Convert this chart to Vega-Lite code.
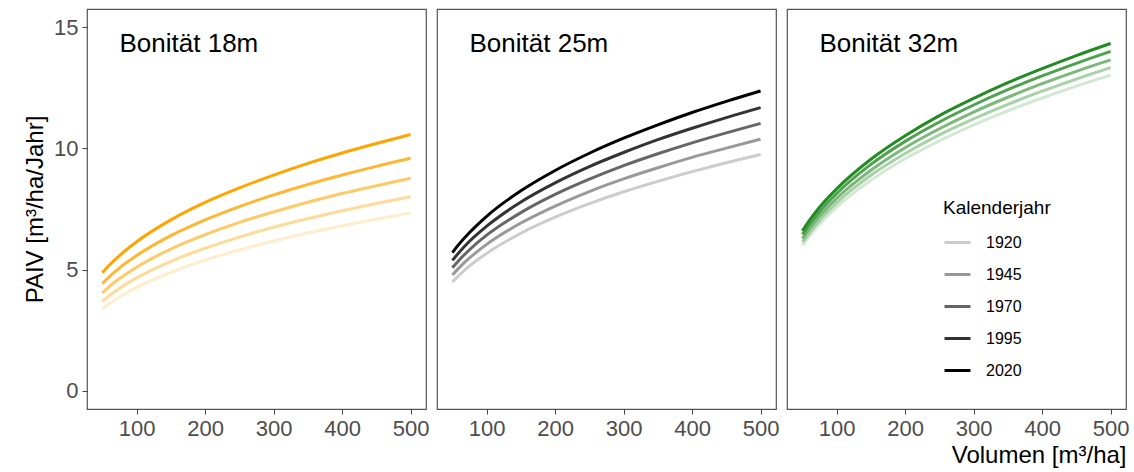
{
  "$schema": "https://vega.github.io/schema/vega-lite/v6.json",
  "background": "white",
  "padding": {"left": 22, "top": 8, "right": 5, "bottom": 5},
  "bounds": "flush",
  "config": {
    "font": "Liberation Sans",
    "view": {"stroke": "#555555", "strokeWidth": 1.2},
    "axis": {"grid": false, "domain": false, "tickColor": "#444444", "tickSize": 5, "labelColor": "#4D4D4D", "labelFontSize": 22, "labelFont": "Liberation Sans", "titleFont": "Liberation Sans", "titleFontSize": 24, "titleFontWeight": "normal", "titleColor": "black", "labelPadding": 4}
  },
  "datasets": {
    "pts": [
      {"bon":"18","jahr":2020,"v":50,"p":4.87},{"bon":"18","jahr":2020,"v":60,"p":5.18},{"bon":"18","jahr":2020,"v":75,"p":5.58},{"bon":"18","jahr":2020,"v":100,"p":6.15},{"bon":"18","jahr":2020,"v":150,"p":7.05},{"bon":"18","jahr":2020,"v":200,"p":7.77},{"bon":"18","jahr":2020,"v":250,"p":8.37},{"bon":"18","jahr":2020,"v":300,"p":8.90},{"bon":"18","jahr":2020,"v":350,"p":9.38},{"bon":"18","jahr":2020,"v":400,"p":9.81},{"bon":"18","jahr":2020,"v":450,"p":10.20},{"bon":"18","jahr":2020,"v":500,"p":10.57},
      {"bon":"18","jahr":1995,"v":50,"p":4.42},{"bon":"18","jahr":1995,"v":60,"p":4.70},{"bon":"18","jahr":1995,"v":75,"p":5.07},{"bon":"18","jahr":1995,"v":100,"p":5.58},{"bon":"18","jahr":1995,"v":150,"p":6.40},{"bon":"18","jahr":1995,"v":200,"p":7.05},{"bon":"18","jahr":1995,"v":250,"p":7.60},{"bon":"18","jahr":1995,"v":300,"p":8.08},{"bon":"18","jahr":1995,"v":350,"p":8.51},{"bon":"18","jahr":1995,"v":400,"p":8.90},{"bon":"18","jahr":1995,"v":450,"p":9.26},{"bon":"18","jahr":1995,"v":500,"p":9.59},
      {"bon":"18","jahr":1970,"v":50,"p":4.04},{"bon":"18","jahr":1970,"v":60,"p":4.30},{"bon":"18","jahr":1970,"v":75,"p":4.63},{"bon":"18","jahr":1970,"v":100,"p":5.10},{"bon":"18","jahr":1970,"v":150,"p":5.85},{"bon":"18","jahr":1970,"v":200,"p":6.44},{"bon":"18","jahr":1970,"v":250,"p":6.95},{"bon":"18","jahr":1970,"v":300,"p":7.38},{"bon":"18","jahr":1970,"v":350,"p":7.78},{"bon":"18","jahr":1970,"v":400,"p":8.14},{"bon":"18","jahr":1970,"v":450,"p":8.46},{"bon":"18","jahr":1970,"v":500,"p":8.77},
      {"bon":"18","jahr":1945,"v":50,"p":3.69},{"bon":"18","jahr":1945,"v":60,"p":3.92},{"bon":"18","jahr":1945,"v":75,"p":4.23},{"bon":"18","jahr":1945,"v":100,"p":4.66},{"bon":"18","jahr":1945,"v":150,"p":5.34},{"bon":"18","jahr":1945,"v":200,"p":5.88},{"bon":"18","jahr":1945,"v":250,"p":6.34},{"bon":"18","jahr":1945,"v":300,"p":6.75},{"bon":"18","jahr":1945,"v":350,"p":7.10},{"bon":"18","jahr":1945,"v":400,"p":7.43},{"bon":"18","jahr":1945,"v":450,"p":7.73},{"bon":"18","jahr":1945,"v":500,"p":8.01},
      {"bon":"18","jahr":1920,"v":50,"p":3.38},{"bon":"18","jahr":1920,"v":60,"p":3.59},{"bon":"18","jahr":1920,"v":75,"p":3.87},{"bon":"18","jahr":1920,"v":100,"p":4.27},{"bon":"18","jahr":1920,"v":150,"p":4.89},{"bon":"18","jahr":1920,"v":200,"p":5.39},{"bon":"18","jahr":1920,"v":250,"p":5.81},{"bon":"18","jahr":1920,"v":300,"p":6.18},{"bon":"18","jahr":1920,"v":350,"p":6.51},{"bon":"18","jahr":1920,"v":400,"p":6.81},{"bon":"18","jahr":1920,"v":450,"p":7.08},{"bon":"18","jahr":1920,"v":500,"p":7.34},
      {"bon":"25","jahr":2020,"v":50,"p":5.70},{"bon":"25","jahr":2020,"v":60,"p":6.06},{"bon":"25","jahr":2020,"v":75,"p":6.53},{"bon":"25","jahr":2020,"v":100,"p":7.20},{"bon":"25","jahr":2020,"v":150,"p":8.25},{"bon":"25","jahr":2020,"v":200,"p":9.09},{"bon":"25","jahr":2020,"v":250,"p":9.80},{"bon":"25","jahr":2020,"v":300,"p":10.42},{"bon":"25","jahr":2020,"v":350,"p":10.97},{"bon":"25","jahr":2020,"v":400,"p":11.48},{"bon":"25","jahr":2020,"v":450,"p":11.94},{"bon":"25","jahr":2020,"v":500,"p":12.37},
      {"bon":"25","jahr":1995,"v":50,"p":5.38},{"bon":"25","jahr":1995,"v":60,"p":5.72},{"bon":"25","jahr":1995,"v":75,"p":6.17},{"bon":"25","jahr":1995,"v":100,"p":6.79},{"bon":"25","jahr":1995,"v":150,"p":7.79},{"bon":"25","jahr":1995,"v":200,"p":8.58},{"bon":"25","jahr":1995,"v":250,"p":9.25},{"bon":"25","jahr":1995,"v":300,"p":9.83},{"bon":"25","jahr":1995,"v":350,"p":10.36},{"bon":"25","jahr":1995,"v":400,"p":10.83},{"bon":"25","jahr":1995,"v":450,"p":11.27},{"bon":"25","jahr":1995,"v":500,"p":11.68},
      {"bon":"25","jahr":1970,"v":50,"p":5.08},{"bon":"25","jahr":1970,"v":60,"p":5.40},{"bon":"25","jahr":1970,"v":75,"p":5.82},{"bon":"25","jahr":1970,"v":100,"p":6.42},{"bon":"25","jahr":1970,"v":150,"p":7.35},{"bon":"25","jahr":1970,"v":200,"p":8.10},{"bon":"25","jahr":1970,"v":250,"p":8.73},{"bon":"25","jahr":1970,"v":300,"p":9.29},{"bon":"25","jahr":1970,"v":350,"p":9.78},{"bon":"25","jahr":1970,"v":400,"p":10.23},{"bon":"25","jahr":1970,"v":450,"p":10.64},{"bon":"25","jahr":1970,"v":500,"p":11.03},
      {"bon":"25","jahr":1945,"v":50,"p":4.78},{"bon":"25","jahr":1945,"v":60,"p":5.08},{"bon":"25","jahr":1945,"v":75,"p":5.48},{"bon":"25","jahr":1945,"v":100,"p":6.04},{"bon":"25","jahr":1945,"v":150,"p":6.92},{"bon":"25","jahr":1945,"v":200,"p":7.62},{"bon":"25","jahr":1945,"v":250,"p":8.22},{"bon":"25","jahr":1945,"v":300,"p":8.74},{"bon":"25","jahr":1945,"v":350,"p":9.20},{"bon":"25","jahr":1945,"v":400,"p":9.63},{"bon":"25","jahr":1945,"v":450,"p":10.01},{"bon":"25","jahr":1945,"v":500,"p":10.38},
      {"bon":"25","jahr":1920,"v":50,"p":4.49},{"bon":"25","jahr":1920,"v":60,"p":4.77},{"bon":"25","jahr":1920,"v":75,"p":5.15},{"bon":"25","jahr":1920,"v":100,"p":5.67},{"bon":"25","jahr":1920,"v":150,"p":6.50},{"bon":"25","jahr":1920,"v":200,"p":7.16},{"bon":"25","jahr":1920,"v":250,"p":7.72},{"bon":"25","jahr":1920,"v":300,"p":8.21},{"bon":"25","jahr":1920,"v":350,"p":8.64},{"bon":"25","jahr":1920,"v":400,"p":9.04},{"bon":"25","jahr":1920,"v":450,"p":9.41},{"bon":"25","jahr":1920,"v":500,"p":9.75},
      {"bon":"32","jahr":2020,"v":50,"p":6.60},{"bon":"32","jahr":2020,"v":60,"p":7.02},{"bon":"32","jahr":2020,"v":75,"p":7.57},{"bon":"32","jahr":2020,"v":100,"p":8.33},{"bon":"32","jahr":2020,"v":150,"p":9.55},{"bon":"32","jahr":2020,"v":200,"p":10.52},{"bon":"32","jahr":2020,"v":250,"p":11.35},{"bon":"32","jahr":2020,"v":300,"p":12.06},{"bon":"32","jahr":2020,"v":350,"p":12.71},{"bon":"32","jahr":2020,"v":400,"p":13.29},{"bon":"32","jahr":2020,"v":450,"p":13.83},{"bon":"32","jahr":2020,"v":500,"p":14.33},
      {"bon":"32","jahr":1995,"v":50,"p":6.45},{"bon":"32","jahr":1995,"v":60,"p":6.86},{"bon":"32","jahr":1995,"v":75,"p":7.39},{"bon":"32","jahr":1995,"v":100,"p":8.14},{"bon":"32","jahr":1995,"v":150,"p":9.34},{"bon":"32","jahr":1995,"v":200,"p":10.29},{"bon":"32","jahr":1995,"v":250,"p":11.09},{"bon":"32","jahr":1995,"v":300,"p":11.79},{"bon":"32","jahr":1995,"v":350,"p":12.42},{"bon":"32","jahr":1995,"v":400,"p":12.99},{"bon":"32","jahr":1995,"v":450,"p":13.51},{"bon":"32","jahr":1995,"v":500,"p":14.00},
      {"bon":"32","jahr":1970,"v":50,"p":6.29},{"bon":"32","jahr":1970,"v":60,"p":6.69},{"bon":"32","jahr":1970,"v":75,"p":7.21},{"bon":"32","jahr":1970,"v":100,"p":7.94},{"bon":"32","jahr":1970,"v":150,"p":9.10},{"bon":"32","jahr":1970,"v":200,"p":10.03},{"bon":"32","jahr":1970,"v":250,"p":10.81},{"bon":"32","jahr":1970,"v":300,"p":11.50},{"bon":"32","jahr":1970,"v":350,"p":12.11},{"bon":"32","jahr":1970,"v":400,"p":12.67},{"bon":"32","jahr":1970,"v":450,"p":13.18},{"bon":"32","jahr":1970,"v":500,"p":13.65},
      {"bon":"32","jahr":1945,"v":50,"p":6.14},{"bon":"32","jahr":1945,"v":60,"p":6.53},{"bon":"32","jahr":1945,"v":75,"p":7.04},{"bon":"32","jahr":1945,"v":100,"p":7.75},{"bon":"32","jahr":1945,"v":150,"p":8.89},{"bon":"32","jahr":1945,"v":200,"p":9.79},{"bon":"32","jahr":1945,"v":250,"p":10.56},{"bon":"32","jahr":1945,"v":300,"p":11.22},{"bon":"32","jahr":1945,"v":350,"p":11.82},{"bon":"32","jahr":1945,"v":400,"p":12.36},{"bon":"32","jahr":1945,"v":450,"p":12.86},{"bon":"32","jahr":1945,"v":500,"p":13.33},
      {"bon":"32","jahr":1920,"v":50,"p":6.00},{"bon":"32","jahr":1920,"v":60,"p":6.38},{"bon":"32","jahr":1920,"v":75,"p":6.88},{"bon":"32","jahr":1920,"v":100,"p":7.58},{"bon":"32","jahr":1920,"v":150,"p":8.68},{"bon":"32","jahr":1920,"v":200,"p":9.57},{"bon":"32","jahr":1920,"v":250,"p":10.31},{"bon":"32","jahr":1920,"v":300,"p":10.97},{"bon":"32","jahr":1920,"v":350,"p":11.55},{"bon":"32","jahr":1920,"v":400,"p":12.08},{"bon":"32","jahr":1920,"v":450,"p":12.57},{"bon":"32","jahr":1920,"v":500,"p":13.02}
    ]
  },
  "data": {"name": "pts"},
  "spacing": 11,
  "hconcat": [
    {
      "width": 339, "height": 400,
      "layer": [
        {
          "transform": [{"filter": "datum.bon == '18'"}],
          "mark": {"type": "line", "strokeWidth": 3, "interpolate": "monotone", "color": "#FFA500"},
          "encoding": {
            "x": {"field": "v", "type": "quantitative", "scale": {"domain": [27.5, 522.5], "nice": false, "zero": false}, "axis": {"values": [100, 200, 300, 400, 500], "title": null}},
            "y": {"field": "p", "type": "quantitative", "scale": {"domain": [-0.75, 15.75], "nice": false, "zero": false}, "axis": {"values": [0, 5, 10, 15], "title": "PAIV [m³/ha/Jahr]", "titlePadding": 6}},
            "detail": {"field": "jahr"},
            "opacity": {"field": "jahr", "type": "ordinal", "scale": {"type": "ordinal", "domain": [1920, 1945, 1970, 1995, 2020], "range": [0.2, 0.4, 0.6, 0.8, 1]},
              "legend": {"title": "Kalenderjahr", "orient": "none", "legendX": 856, "legendY": 190, "symbolType": "stroke", "symbolStrokeColor": "black", "symbolStrokeWidth": 3, "symbolSize": 676, "titleFontSize": 19, "titleFontWeight": "normal", "titleColor": "black", "labelFontSize": 16, "labelColor": "black", "labelOffset": 14, "rowPadding": 9, "titlePadding": 10}}
          }
        },
        {
          "data": {"values": [{"label": "Bonität 18m"}]},
          "mark": {"type": "text", "align": "left", "baseline": "middle", "fontSize": 26, "color": "black"},
          "encoding": {"x": {"datum": 75}, "y": {"datum": 14.3}, "text": {"field": "label"}}
        }
      ]
    },
    {
      "width": 339, "height": 400,
      "layer": [
        {
          "transform": [{"filter": "datum.bon == '25'"}],
          "mark": {"type": "line", "strokeWidth": 3, "interpolate": "monotone", "color": "#000000"},
          "encoding": {
            "x": {"field": "v", "type": "quantitative", "scale": {"domain": [27.5, 522.5], "nice": false, "zero": false}, "axis": {"values": [100, 200, 300, 400, 500], "title": null}},
            "y": {"field": "p", "type": "quantitative", "scale": {"domain": [-0.75, 15.75], "nice": false, "zero": false}, "axis": null},
            "detail": {"field": "jahr"},
            "opacity": {"field": "jahr", "type": "ordinal", "scale": {"type": "ordinal", "domain": [1920, 1945, 1970, 1995, 2020], "range": [0.2, 0.4, 0.6, 0.8, 1]}}
          }
        },
        {
          "data": {"values": [{"label": "Bonität 25m"}]},
          "mark": {"type": "text", "align": "left", "baseline": "middle", "fontSize": 26, "color": "black"},
          "encoding": {"x": {"datum": 75}, "y": {"datum": 14.3}, "text": {"field": "label"}}
        }
      ]
    },
    {
      "width": 339, "height": 400,
      "layer": [
        {
          "transform": [{"filter": "datum.bon == '32'"}],
          "mark": {"type": "line", "strokeWidth": 3, "interpolate": "monotone", "color": "#228B22"},
          "encoding": {
            "x": {"field": "v", "type": "quantitative", "scale": {"domain": [27.5, 522.5], "nice": false, "zero": false}, "axis": {"values": [100, 200, 300, 400, 500], "title": "Volumen [m³/ha]", "titleAnchor": "end", "titlePadding": 4}},
            "y": {"field": "p", "type": "quantitative", "scale": {"domain": [-0.75, 15.75], "nice": false, "zero": false}, "axis": null},
            "detail": {"field": "jahr"},
            "opacity": {"field": "jahr", "type": "ordinal", "scale": {"type": "ordinal", "domain": [1920, 1945, 1970, 1995, 2020], "range": [0.2, 0.4, 0.6, 0.8, 1]}}
          }
        },
        {
          "data": {"values": [{"label": "Bonität 32m"}]},
          "mark": {"type": "text", "align": "left", "baseline": "middle", "fontSize": 26, "color": "black"},
          "encoding": {"x": {"datum": 75}, "y": {"datum": 14.3}, "text": {"field": "label"}}
        }
      ]
    }
  ]
}
